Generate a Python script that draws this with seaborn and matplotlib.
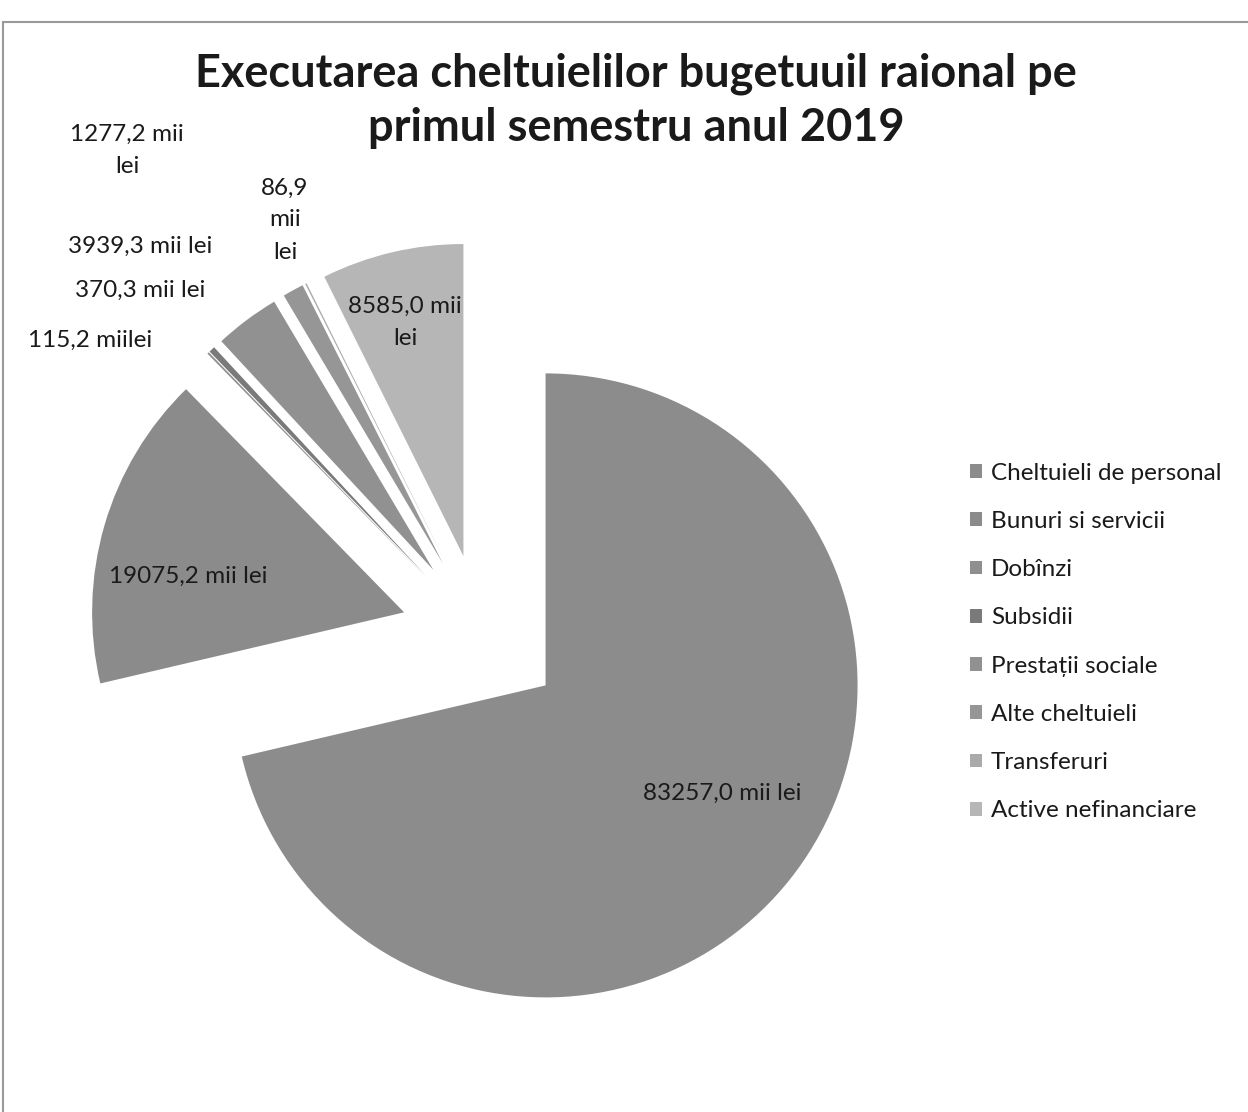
import matplotlib
matplotlib.use("Agg")
import matplotlib.pyplot as plt
import seaborn as sns
from matplotlib.patches import Rectangle

# data
categories = ["Cheltuieli de personal", "Bunuri si servicii", "Dobînzi", "Subsidii",
              "Prestații sociale", "Alte cheltuieli", "Transferuri", "Active nefinanciare"]
values = [83257.0, 19075.2, 115.2, 370.3, 3939.3, 1277.2, 86.9, 8585.0]
value_labels = ["83257,0 mii lei", "19075,2 mii lei", "115,2 miilei", "370,3 mii lei",
                "3939,3 mii lei", "1277,2 mii\nlei", "86,9\nmii\nlei", "8585,0 mii\nlei"]
colors = ["#8c8c8c", "#8b8b8b", "#8f8f8f", "#7a7a7a",
          "#919191", "#969696", "#aaaaaa", "#b6b6b6"]

# where the data labels sit (pixels, as dragged in the original)
label_pos = [(722, 793), (188, 576), (90, 340), (140, 290),
             (140, 246), (127, 150), (285, 220), (405, 322)]

sns.set_theme(style="white")
plt.rcParams["font.family"] = ["Lato", "DejaVu Sans"]

W, H = 1248, 1112
fig = plt.figure(figsize=(W / 100, H / 100), dpi=100)

# pie centre and radius in pixels
cx, cy, r = 482, 635, 312
half = 420
ax = fig.add_axes([(cx - half) / W, (H - cy - half) / H, 2 * half / W, 2 * half / H])
wedges, _ = ax.pie(values, colors=colors, startangle=90, counterclock=False,
                   explode=[0.26] * len(values), wedgeprops=dict(linewidth=0))
ax.set_xlim(-half / r, half / r)
ax.set_ylim(-half / r, half / r)
ax.set_aspect("equal")
ax.axis("off")

for txt, (px, py) in zip(value_labels, label_pos):
    fig.text(px / W, 1 - py / H, txt, ha="center", va="center",
             fontsize=17.5, color="#1a1a1a", linespacing=1.65)

fig.text(636 / W, 1 - 101 / H, "Executarea cheltuielilor bugetuuil raional pe\nprimul semestru anul 2019",
         ha="center", va="center", fontsize=32.5, fontweight="bold", color="#1a1a1a",
         linespacing=1.35)

fig.legend(wedges, categories, loc="center left", bbox_to_anchor=(958 / W, 1 - 642 / H),
           frameon=False, fontsize=17.5, handlelength=0.5, handleheight=0.5,
           handletextpad=0.35, labelspacing=1.12, borderpad=0, labelcolor="#1a1a1a")

# chart area border
fig.patches.append(Rectangle((3 / W, -0.05), 1.2, 1 - 22 / H + 0.05, transform=fig.transFigure,
                             fill=False, edgecolor="#999999", linewidth=1.5))

fig.savefig("out.png", dpi=100)
